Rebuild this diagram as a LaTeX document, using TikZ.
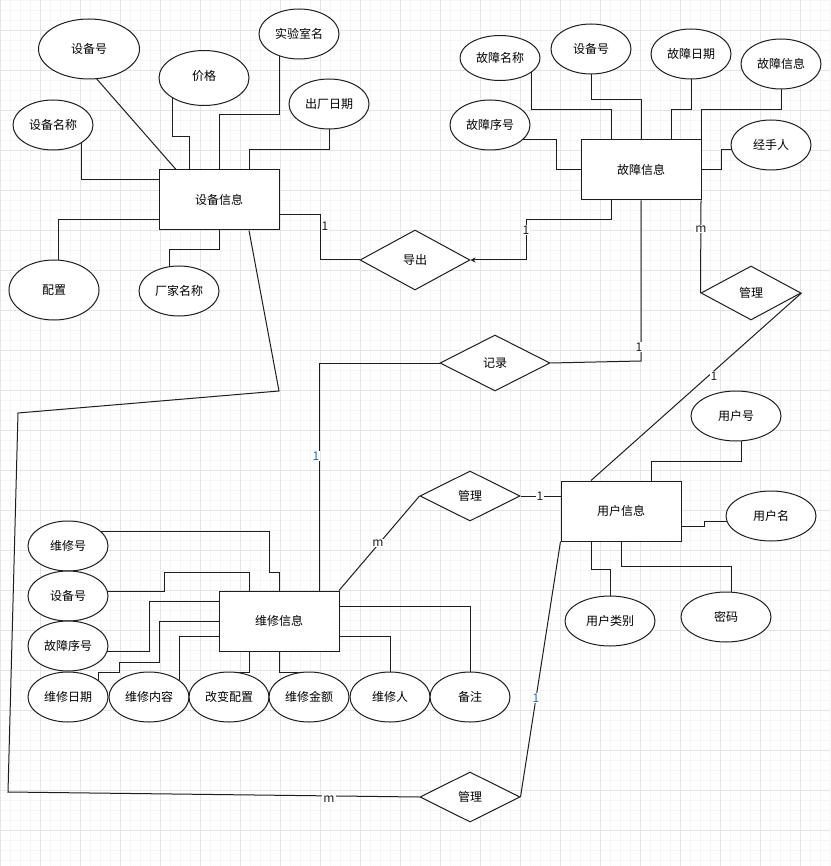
\documentclass[tikz,border=0pt]{standalone}
\usepackage{fontspec}
\setmainfont{Noto Sans CJK SC}
\usepackage{xcolor}
\usepackage{tikz}
\usetikzlibrary{arrows.meta,shapes.geometric}
\definecolor{Ink}{HTML}{1E1E1E}
\definecolor{CardBlue}{HTML}{1A6CC4}
\definecolor{GridMajor}{HTML}{E4E4E4}
\definecolor{GridMinor}{HTML}{F5F5F5}
\pgfdeclarelayer{gridlayer}
\pgfdeclarelayer{edgelayer}
\pgfsetlayers{gridlayer,edgelayer,main}

\begin{document}
\begin{tikzpicture}[x=1pt,y=-1pt,
  ent/.style={draw=Ink,line width=1pt,fill=white,minimum width=120pt,minimum height=60pt,inner sep=0pt,font=\fontsize{12}{14}\selectfont},
  attr/.style={ellipse,draw=Ink,line width=1pt,fill=white,minimum width=80pt,minimum height=50pt,inner sep=0pt,font=\fontsize{12}{14}\selectfont},
  rel/.style={diamond,draw=Ink,line width=1pt,fill=white,minimum width=110pt,minimum height=60pt,inner sep=0pt,font=\fontsize{12}{14}\selectfont},
  link/.style={draw=Ink,line width=1pt},
  card/.style={fill=white,inner sep=1pt,text=Ink,font=\fontsize{12}{13}\selectfont}
]
\useasboundingbox (0,0) rectangle (830,866);
% grid
\begin{pgfonlayer}{gridlayer}
\fill[white] (0,0) rectangle (830,866);
\foreach \x in {0,10,...,830} \draw[GridMinor,line width=0.8pt] (\x,0) -- (\x,866);
\foreach \y in {0.5,10.5,...,866} \draw[GridMinor,line width=0.8pt] (0,\y) -- (830,\y);
\foreach \x in {0,40,...,830} \draw[GridMajor,line width=0.8pt] (\x,0) -- (\x,866);
\foreach \y in {30.5,70.5,...,866} \draw[GridMajor,line width=0.8pt] (0,\y) -- (830,\y);
\end{pgfonlayer}

% entities
\node[ent] (sbxx) at (219,200) {设备信息};
\node[ent] (gzxx) at (641,170) {故障信息};
\node[ent] (yhxx) at (621,511) {用户信息};
\node[ent] (wxxx) at (279,621) {维修信息};

% relations
\node[rel] (daochu) at (415,260) {导出};
\node[rel,minimum height=56pt] (jilu) at (495,363) {记录};
\node[rel,minimum width=100pt,minimum height=54pt] (gl1) at (751,293) {管理};
\node[rel,minimum width=100pt,minimum height=50pt] (gl2) at (470,496) {管理};
\node[rel,minimum width=100pt,minimum height=50pt] (gl3) at (470,797) {管理};

% 设备信息
\node[attr,minimum width=101pt,minimum height=60pt] (sbh) at (89,49) {设备号};
\node[attr,minimum width=90pt,minimum height=55pt] (jg) at (204,78) {\raisebox{6pt}{价格}};
\node[attr] (sysm) at (299,34) {实验室名};
\node[attr] (ccrq) at (329,104) {出厂日期};
\node[attr] (sbmc) at (53,125) {设备名称};
\node[attr,minimum width=90pt,minimum height=60pt] (pz) at (54,290) {配置};
\node[attr] (cjmc) at (179,291) {厂家名称};

% 故障信息
\node[attr,minimum height=45pt] (gzmc) at (500,58) {故障名称};
\node[attr] (sbh2) at (591,49) {设备号};
\node[attr] (gzrq) at (691,54) {故障日期};
\node[attr] (gzxi) at (781,64) {故障信息};
\node[attr] (gzxh) at (490,125) {故障序号};
\node[attr] (jsr) at (771,145) {经手人};

% 用户信息
\node[attr,minimum width=90pt] (yhh) at (736,416) {用户号};
\node[attr,minimum width=90pt] (yhm) at (771,516) {用户名};
\node[attr,minimum width=90pt] (yhlb) at (610,621) {用户类别};
\node[attr,minimum width=90pt] (mm) at (726,617) {密码};

% 维修信息
\node[attr] (wxh) at (68,546) {维修号};
\node[attr] (sbh3) at (68,596) {设备号};
\node[attr] (gzxh2) at (68,646) {故障序号};
\node[attr] (wxrq) at (68,697) {维修日期};
\node[attr] (wxnr) at (149,697) {维修内容};
\node[attr] (gbpz) at (229,697) {改变配置};
\node[attr] (wxje) at (309,697) {维修金额};
\node[attr] (wxr) at (390,697) {维修人};
\node[attr] (bz) at (470,697) {备注};

\begin{pgfonlayer}{edgelayer}
\draw[link] ([shift={(-1,20)}]sbh.center) -- ([xshift=-43pt]sbxx.north);
\draw[link] ([xshift=-32pt]jg.center) -- (172,137) -| ([xshift=-30pt]sbxx.north);
\draw[link] ([xshift=-20pt]sysm.center) -- (279,115) -| (sbxx.north);
\draw[link] (ccrq.center) -- (329,150) -| ([xshift=30pt]sbxx.north);
\draw[link] ([xshift=28pt]sbmc.center) |- ([yshift=20pt]sbxx.west);
\draw[link] ([yshift=-20pt]sbxx.west) -| ([xshift=4pt]pz.center);
\draw[link] (sbxx.south) -- (219,250) -| ([xshift=-10pt]cjmc.center);

\draw[link] ([xshift=31pt]gzmc.center) -- (531,110) -| ([xshift=-30pt]gzxx.north);
\draw[link] (sbh2.center) -- (591,100) -| (gzxx.north);
\draw[link] (gzrq.center) -- (691,110) -| ([xshift=30pt]gzxx.north);
\draw[link] (gzxi.center) -- (781,110) -| (gzxx.north east);
\draw[link] ([yshift=-15pt]gzxh.center) -- (556,140) |- (gzxx.west);
\draw[link] (gzxx.east) -- (721,170) |- ([yshift=-5pt]jsr.center);

\draw[link] ([xshift=5pt]yhh.center) -- (741,461) -| ([xshift=30pt]yhxx.north);
\draw[link] ([yshift=-15pt]yhxx.east) -- (704,526) |- ([yshift=-5pt]yhm.center);
\draw[link] ([xshift=-30pt]yhxx.south) -- (591,569) -| (yhlb.center);
\draw[link] (yhxx.south) -- (621,566) -| ([xshift=5pt]mm.center);

\draw[link] ([yshift=15pt]wxh.center) -| (269,572) -| (wxxx.north);
\draw[link] ([yshift=5pt]sbh3.center) -| (164,572) -| ([xshift=-30pt]wxxx.north);
\draw[link] ([yshift=-5pt]gzxh2.center) -| (149,601) -- ([yshift=20pt]wxxx.west);
\draw[link] ([xshift=30pt]wxrq.center) |- (119,672) |- (159,662) |- (wxxx.west);
\draw[link] ([xshift=30pt]wxnr.center) |- ([yshift=-15pt]wxxx.west);
\draw[link] ([xshift=-30pt]wxxx.south) -- (249,672) -| (gbpz.center);
\draw[link] (wxxx.south) -- (279,672) -| ([xshift=-10pt]wxje.center);
\draw[link] ([yshift=-15pt]wxxx.east) -| (wxr.center);
\draw[link] ([yshift=15pt]wxxx.east) -| (bz.center);

% relations
\draw[link] ([yshift=-15pt]sbxx.east) -- (320,215) |- (daochu.west);
\draw[link,-{Stealth[length=5pt,width=5pt]}] ([xshift=-30pt]gzxx.south) |- (526,220) |- (daochu.east);
\draw[link] (jilu.west) -| ([xshift=40pt]wxxx.north);
\draw[link] (jilu.east) -- (641,361) -- (gzxx.south);
\draw[link] ([xshift=60pt]gzxx.south) -- (gl1.west);
\draw[link] (gl1.east) -- ([xshift=-30pt]yhxx.north);
\draw[link] (gl2.east) -- ([yshift=15pt]yhxx.west);
\draw[link] (gl2.west) -- ([xshift=60pt]wxxx.north);
\draw[link] (gl3.east) -- (yhxx.south west);
\draw[link] ([xshift=30pt]sbxx.south) -- (279,391) -- (18,413) -- (8,792) -- (gl3.west);
\end{pgfonlayer}

% cardinalities
\node[card] (c1) at (325,226) {1};
\node[card] (c2) at (526,230) {1};
\node[card] (c3) at (701,229) {m};
\node[card] (c4) at (639,347) {1};
\node[card] (c5) at (714,376) {1};
\node[card,text=CardBlue] (c6) at (316,456) {1};
\node[card] (c7) at (540,496) {1};
\node[card] (c8) at (378,543) {m};
\node[card,text=CardBlue] (c9) at (536,698) {1};
\node[card] (c10) at (329,799) {m};
\end{tikzpicture}
\end{document}
